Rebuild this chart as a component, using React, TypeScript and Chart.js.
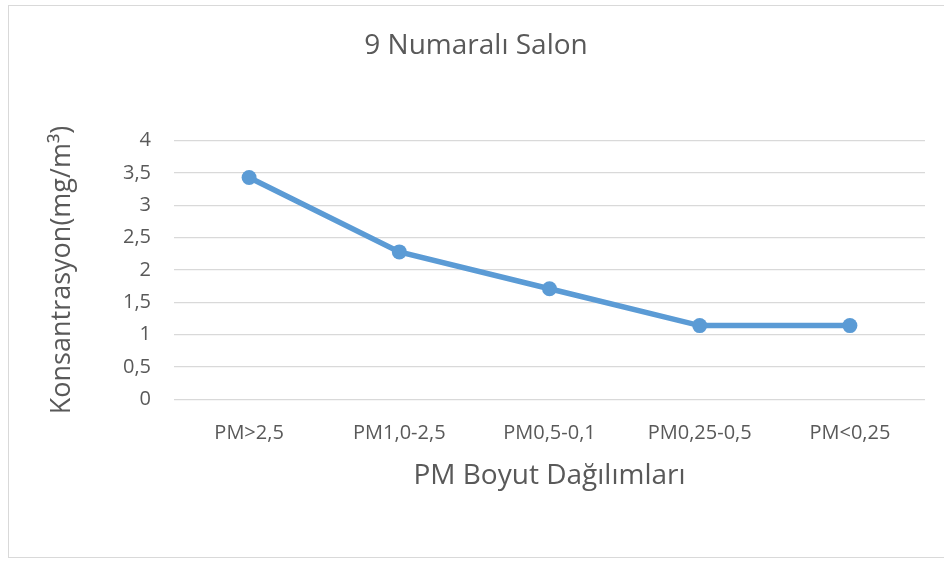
import React, { useEffect, useRef } from "react";
import { Chart, registerables } from "chart.js";

Chart.register(...registerables);

const categories = ["PM>2,5", "PM1,0-2,5", "PM0,5-0,1", "PM0,25-0,5", "PM<0,25"];
const values = [3.43, 2.28, 1.71, 1.14, 1.14];
const yTicks = [0, 0.5, 1, 1.5, 2, 2.5, 3, 3.5, 4];
const chartTitle = "9 Numaralı Salon";
const xTitle = "PM Boyut Dağılımları";
const yTitle = "Konsantrasyon(mg/m³)";

const TEXT = "#595959";
const GRID = "#d9d9d9";
const LINE = "#5b9bd5";
const FONT = "'Open Sans', sans-serif";

export default function App() {
  const ref = useRef<HTMLCanvasElement | null>(null);

  useEffect(() => {
    if (!ref.current) return;
    const chart = new Chart(ref.current, {
      type: "line",
      data: {
        labels: categories,
        datasets: [
          {
            data: values,
            borderColor: LINE,
            backgroundColor: LINE,
            borderWidth: 5.5,
            pointRadius: 7.5,
            pointBorderWidth: 0,
            pointBackgroundColor: LINE,
            tension: 0,
            fill: false,
          },
        ],
      },
      options: {
        responsive: false,
        animation: false,
        layout: { padding: { left: 18, right: 18, top: 0, bottom: 0 } },
        plugins: {
          legend: { display: false },
          tooltip: { enabled: false },
          title: {
            display: true,
            text: chartTitle,
            color: TEXT,
            font: { family: FONT, size: 28, weight: "normal" },
            padding: { top: 23, bottom: 78.1 },
          },
        },
        scales: {
          x: {
            type: "category",
            offset: true,
            grid: { display: false, drawTicks: false },
            border: { display: false },
            ticks: {
              color: TEXT,
              font: { family: FONT, size: 20 },
              padding: 21.7,
              maxRotation: 0,
              autoSkip: false,
            },
            title: {
              display: true,
              text: xTitle,
              color: TEXT,
              font: { family: FONT, size: 28 },
              padding: { top: 0, bottom: 64 },
            },
            afterFit: (s: any) => {
              s.height = 157.7;
            },
          },
          y: {
            min: 0,
            max: 4,
            afterBuildTicks: (s: any) => {
              s.ticks = yTicks.map((v) => ({ value: v }));
            },
            grid: { color: GRID, lineWidth: 1.3, drawTicks: false },
            border: { display: false },
            ticks: {
              color: TEXT,
              font: { family: FONT, size: 20 },
              padding: 23,
              callback: (v: any) => String(v).replace(".", ","),
            },
            title: {
              display: true,
              text: yTitle,
              color: TEXT,
              font: { family: FONT, size: 27 },
              padding: { top: 18.8, bottom: 0 },
            },
            afterFit: (s: any) => {
              s.width = 147;
            },
          },
        },
      },
    });
    return () => chart.destroy();
  }, []);

  return (
    <div
      style={{
        position: "absolute",
        left: 0,
        top: 0,
        width: 944,
        height: 561,
        overflow: "hidden",
        background: "#fff",
      }}
    >
      <div
        style={{
          position: "absolute",
          left: 8,
          top: 5,
          width: 940,
          height: 553,
          boxSizing: "border-box",
          border: "1px solid #d9d9d9",
          background: "#fff",
        }}
      >
        <canvas ref={ref} width={934} height={551} style={{ display: "block" }} />
      </div>
    </div>
  );
}
